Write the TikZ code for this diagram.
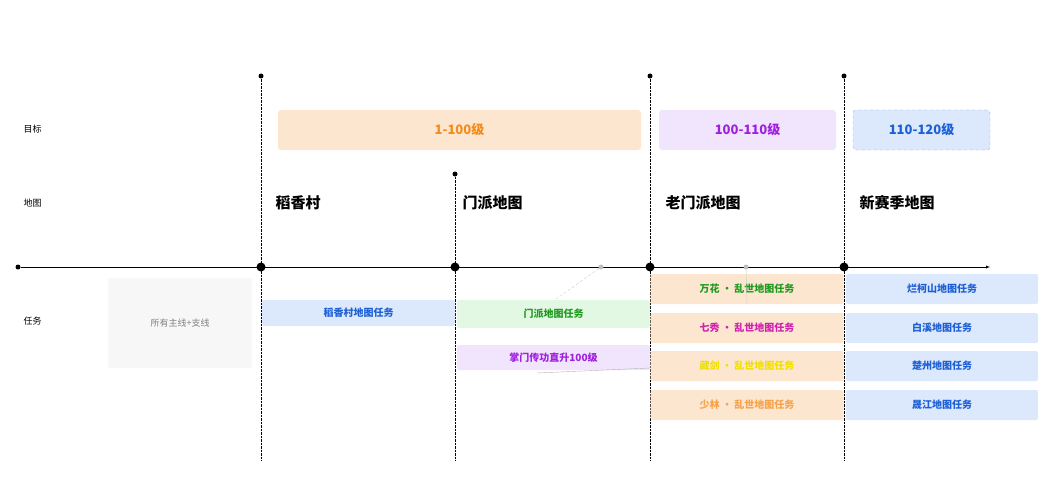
\documentclass[tikz,border=0pt]{standalone}
\usepackage{fontspec}
\setmainfont{Noto Sans CJK SC}
\definecolor{orangebg}{HTML}{FDE6D0}
\definecolor{purplebg}{HTML}{F1E5FD}
\definecolor{bluebg}{HTML}{DCE8FB}
\definecolor{greenbg}{HTML}{E3F8E3}
\definecolor{orangetx}{HTML}{F28C1E}
\definecolor{purpletx}{HTML}{A020E0}
\definecolor{bluetx}{HTML}{1C5FD6}
\definecolor{greentx}{HTML}{1E9B1E}
\definecolor{magentatx}{HTML}{D020B0}
\definecolor{yellowtx}{HTML}{F0E000}
\begin{document}
\begin{tikzpicture}[
    x=1pt, y=-1pt,
    rowlabel/.style={anchor=west, font=\fontsize{9}{10}\selectfont},
    goalbox/.style={rounded corners=3pt, minimum height=40pt, font=\fontsize{13}{14}\selectfont\bfseries},
    maplabel/.style={anchor=west, font=\fontsize{15}{16}\selectfont\bfseries},
    taskbox/.style={rounded corners=2pt, minimum width=193pt, minimum height=28pt, font=\fontsize{10}{11}\selectfont\bfseries},
    bigdot/.style={circle, fill=black, inner sep=0pt, minimum size=9pt},
    smalldot/.style={circle, fill=black, inner sep=0pt, minimum size=5pt},
    greydot/.style={circle, fill=gray!50, inner sep=0pt, minimum size=5pt},
    guide/.style={densely dotted, thin}
]
    \useasboundingbox (0,0) rectangle (1051,500);

    % Row labels
    \node[rowlabel] (goal) at (20,129) {目标};
    \node[rowlabel] (map) at (20,203) {地图};
    \node[rowlabel] (task) at (20,321) {任务};

    % Timeline
    \node[smalldot] (start) at (18,267) {};
    \coordinate (end) at (990,267);
    \draw[-latex] (start) -- (end);
    \foreach \name/\x in {pa/261, pb/455, pc/650, pd/844}
        \node[bigdot] (\name) at (\x,267) {};
    \node[greydot] (ga) at (601,267) {};
    \node[greydot] (gb) at (746,267) {};

    % Vertical guides
    \node[smalldot] (ta) at (261,76) {};
    \node[smalldot] (tb) at (455,174) {};
    \node[smalldot] (tc) at (650,76) {};
    \node[smalldot] (td) at (844,76) {};
    \foreach \name/\x in {a/261, b/455, c/650, d/844} {
        \coordinate (b\name) at (\x,460);
        \draw[guide] (t\name) -- (b\name);
    }

    % Goals
    \node[goalbox, fill=orangebg, text=orangetx, minimum width=363pt] (lvla) at (459.5,130) {1-100级};
    \node[goalbox, fill=purplebg, text=purpletx, minimum width=177pt] (lvlb) at (747.5,130) {100-110级};
    \node[goalbox, fill=bluebg, text=bluetx, draw=bluetx!50, dashed, minimum width=137pt] (lvlc) at (921.5,130) {110-120级};

    % Maps
    \node[maplabel] (mapa) at (272,203) {稻香村};
    \node[maplabel] (mapb) at (459,203) {门派地图};
    \node[maplabel] (mapc) at (662,203) {老门派地图};
    \node[maplabel] (mapd) at (856,203) {新赛季地图};

    % Tasks
    \node[fill=gray!6, minimum width=144pt, minimum height=90pt, text=gray, font=\fontsize{9}{10}\selectfont] (alltask) at (180,323) {所有主线+支线};
    \node[taskbox, fill=bluebg, text=bluetx, minimum height=26pt] (daoxiang) at (358.5,313) {稻香村地图任务};
    \node[taskbox, fill=greenbg, text=greentx] (menpai) at (553.5,314) {门派地图任务};
    \node[taskbox, fill=purplebg, text=purpletx, minimum height=25pt] (zhangmen) at (553.5,357.5) {掌门传功直升100级};

    \node[taskbox, fill=orangebg, text=greentx, minimum height=30pt] (wanhua) at (747,289) {万花 · 乱世地图任务};
    \node[taskbox, fill=orangebg, text=magentatx, minimum height=30pt] (qixiu) at (747,328) {七秀 · 乱世地图任务};
    \node[taskbox, fill=orangebg, text=yellowtx, minimum height=30pt] (cangjian) at (747,366) {藏剑 · 乱世地图任务};
    \node[taskbox, fill=orangebg, text=orangetx!80, minimum height=30pt] (shaolin) at (747,405) {少林 · 乱世地图任务};

    \node[taskbox, fill=bluebg, text=bluetx, minimum width=192pt, minimum height=30pt] (lanke) at (942,289) {烂柯山地图任务};
    \node[taskbox, fill=bluebg, text=bluetx, minimum width=192pt, minimum height=30pt] (baixi) at (942,328) {白溪地图任务};
    \node[taskbox, fill=bluebg, text=bluetx, minimum width=192pt, minimum height=30pt] (chuzhou) at (942,366) {楚州地图任务};
    \node[taskbox, fill=bluebg, text=bluetx, minimum width=192pt, minimum height=30pt] (jinjiang) at (942,405) {晟江地图任务};

    % Faint links
    \draw[gray!40, densely dashed] (ga) -- (menpai.north west -| 555,300);
    \draw[gray!40] (gb) -- (wanhua.south);
    \coordinate (zlink) at (537,373);
    \draw[gray!60] (zlink) -- (650,368);
\end{tikzpicture}
\end{document}
